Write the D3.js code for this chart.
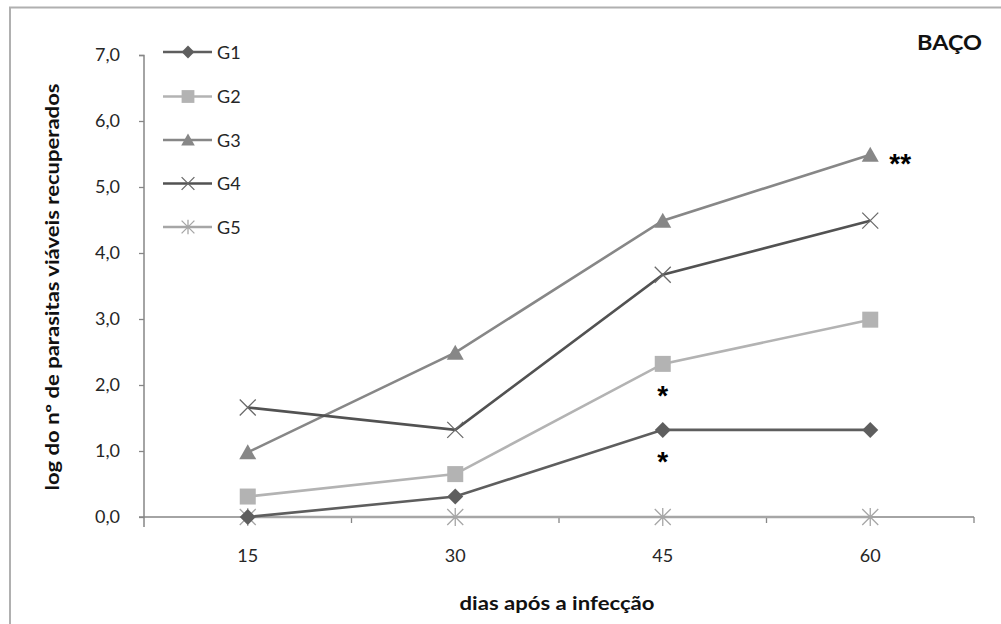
<!DOCTYPE html>
<html><head><meta charset="utf-8">
<script src="https://cdn.jsdelivr.net/npm/d3@7"></script>
<style>body{margin:0;background:#fff;}svg{display:block;font-family:Lato,"Liberation Sans",sans-serif;}</style>
</head><body><svg id="c" width="1001" height="624"></svg>
<script>
const categories = ["15","30","45","60"];
const seriesNames = ["G1","G2","G3","G4","G5"];
const G1 = [0.0, 0.31, 1.32, 1.32];
const G2 = [0.31, 0.65, 2.32, 2.99];
const G3 = [0.98, 2.49, 4.49, 5.49];
const G4 = [1.66, 1.32, 3.67, 4.49];
const G5 = [0.0, 0.0, 0.0, 0.0];
const yTicks = [0,1,2,3,4,5,6,7];
const annotations = [{cat:"60", v:5.49, text:"**", dx:30, dy:18},{cat:"45", v:2.32, text:"*", dx:0, dy:41},{cat:"45", v:1.32, text:"*", dx:0, dy:41}];

const values = [G1,G2,G3,G4,G5];
const colors = ["#5e5e5e","#b3b3b3","#878787","#525252","#a6a6a6"];
const shapes = ["diamond","square","triangle","x","star"];

const svg = d3.select("#c");
// outer frame
svg.append("rect").attr("x",10).attr("y",7.5).attr("width",1100).attr("height",700)
  .attr("fill","none").attr("stroke","#b0b0b0").attr("stroke-width",2);

const x = d3.scaleBand().domain(categories).range([144,974]);
const y = d3.scaleLinear().domain([0,7]).range([517,55]);
const cx = c => x(c)+x.bandwidth()/2;

// y axis
const yAxis = d3.axisLeft(y).tickValues(yTicks).tickSize(5).tickPadding(19)
  .tickFormat(d => d3.format(".1f")(d).replace(".",","));
const gy = svg.append("g").attr("transform","translate(144,0)").call(yAxis);
gy.select(".domain").attr("stroke","#868686").attr("stroke-width",1.5).attr("d","M-5,55.5H0V527");
gy.selectAll(".tick line").attr("stroke","#868686").attr("stroke-width",1.3);
gy.selectAll("text").attr("fill","#262626").style("font-size","18px").style("font-family","Lato, sans-serif");

// x axis
const gx = svg.append("g").attr("transform","translate(0,517)");
gx.append("line").attr("x1",139).attr("x2",974).attr("y1",0).attr("y2",0).attr("stroke","#868686").attr("stroke-width",1.5);
const bounds = categories.map(c=>x(c)+x.bandwidth());
gx.selectAll("line.t").data(bounds).join("line").attr("class","t")
  .attr("x1",d=>d).attr("x2",d=>d).attr("y1",0).attr("y2",6).attr("stroke","#868686").attr("stroke-width",1.3);
gx.selectAll("text").data(categories).join("text")
  .attr("x",d=>cx(d)).attr("y",45).attr("text-anchor","middle")
  .attr("fill","#262626").style("font-size","18px").text(d=>d);

// axis titles
svg.append("text").attr("x",557).attr("y",610).attr("text-anchor","middle")
  .attr("textLength",195).attr("lengthAdjust","spacingAndGlyphs")
  .style("font-size","18px").style("font-weight","bold").attr("fill","#111").text("dias após a infecção");
svg.append("text").attr("transform","translate(59,287) rotate(-90)").attr("text-anchor","middle")
  .attr("textLength",407).attr("lengthAdjust","spacingAndGlyphs")
  .style("font-size","18px").style("font-weight","bold").attr("fill","#111").text("log do nº de parasitas viáveis recuperados");
svg.append("text").attr("x",917).attr("y",50)
  .attr("textLength",65).attr("lengthAdjust","spacingAndGlyphs")
  .style("font-size","20px").style("font-weight","bold").attr("fill","#111").text("BAÇO");

function marker(g, shape, color, k){
  k = k || 1;
  if(shape==="diamond") g.append("path").attr("d",`M0,${-8*k}L${8*k},0L0,${8*k}L${-8*k},0Z`).attr("fill",color);
  else if(shape==="square") g.append("rect").attr("x",-8*k).attr("y",-8*k).attr("width",16*k).attr("height",16*k).attr("fill",color);
  else if(shape==="triangle") g.append("path").attr("d",`M0,${-8*k}L${8.5*k},${7*k}L${-8.5*k},${7*k}Z`).attr("fill",color);
  else if(shape==="x") g.append("path").attr("d",`M${-8*k},${-8*k}L${8*k},${8*k}M${-8*k},${8*k}L${8*k},${-8*k}`).attr("stroke",color).attr("stroke-width",1.3).attr("fill","none");
  else g.append("path").attr("d",`M${-8*k},${-8*k}L${8*k},${8*k}M${-8*k},${8*k}L${8*k},${-8*k}M0,${-9*k}V${9*k}`).attr("stroke",color).attr("stroke-width",1.3).attr("fill","none");
}

const line = d3.line().x((d,i)=>cx(categories[i])).y(d=>y(d));
const order = [4,1,2,3,0];
order.forEach(s=>{
  svg.append("path").attr("d",line(values[s])).attr("fill","none")
    .attr("stroke",colors[s]).attr("stroke-width",2.6);
});
order.forEach(s=>{
  values[s].forEach((v,i)=>{
    const g = svg.append("g").attr("transform",`translate(${cx(categories[i])},${y(v)})`);
    marker(g, shapes[s], s===3? "#6a6a6a" : colors[s]);
  });
});

// legend
const legY = [52,96.5,140,183.5,227];
seriesNames.forEach((n,s)=>{
  const g = svg.append("g").attr("transform",`translate(0,${legY[s]})`);
  g.append("line").attr("x1",163).attr("x2",212).attr("stroke",colors[s]).attr("stroke-width",2.6);
  const m = g.append("g").attr("transform","translate(188,0)");
  marker(m, shapes[s], s===3? "#6a6a6a" : colors[s], 0.8);
  g.append("text").attr("x",217).attr("y",6.5).style("font-size","18px").attr("fill","#262626").text(n);
});

// annotations
annotations.forEach(a=>{
  svg.append("text").attr("x",cx(a.cat)+a.dx).attr("y",y(a.v)+a.dy).attr("text-anchor","middle")
    .style("font-size","28px").style("font-weight","bold").style("font-family","'Liberation Sans', sans-serif")
    .attr("fill","#000").text(a.text);
});
</script></body></html>
